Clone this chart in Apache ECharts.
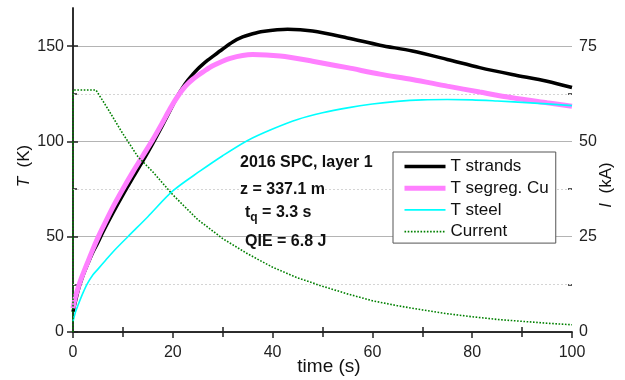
<!DOCTYPE html>
<html>
<head>
<meta charset="utf-8">
<script src="https://cdn.jsdelivr.net/npm/echarts@6/dist/echarts.min.js"></script>
<style>
  html, body { margin: 0; padding: 0; background: #fff; }
  #chart { width: 625px; height: 380px; }
</style>
</head>
<body>
<div id="chart"></div>
<script>
// values
const timeStrands = [0, 1, 2, 3, 4, 5, 6, 8, 10, 12, 14, 16, 18, 20, 21, 22, 23, 24, 25, 26, 27, 28, 30, 32, 34, 36, 38, 43, 48, 55, 61.5, 68, 75, 81.5, 88, 95, 100];
const tStrands = [10.5, 21.5, 29.5, 36, 42, 47, 52.5, 62.5, 72, 81, 89.8, 99, 108.8, 119, 124, 128.3, 132, 135.2, 138, 140.4, 142.6, 144.6, 148.5, 152.2, 154.8, 156.5, 157.7, 158.8, 157.9, 154.3, 150.5, 147.4, 143, 138.7, 135.1, 131.6, 128.3];

const timeCu = [0, 0.5, 1, 1.5, 2, 3, 4, 5, 6, 8, 10, 12, 14, 16, 18, 19, 20, 21, 22, 23, 24, 25, 26, 28.1, 31.5, 36, 41.5, 48, 55, 61.5, 68, 75, 81.5, 88, 95, 100];
const tCu = [12.5, 18.5, 23, 27, 30.5, 37, 43.5, 49.5, 55, 65.5, 75, 84, 92.5, 101, 110.2, 115, 119.6, 123.7, 127.3, 130.2, 132.6, 134.6, 136.4, 139.8, 143.6, 145.6, 144.8, 142.1, 138.7, 135.3, 132.5, 129, 125.9, 122.9, 120.3, 118.5];

const timeSteel = [0, 0.5, 1, 2, 2.8, 4, 5, 6.5, 8, 11, 15, 20, 25.5, 30, 35, 40, 45, 50, 55, 60, 65, 70, 75, 80, 85, 90, 95, 100];
const tSteel = [5.5, 10.5, 14, 20.5, 25, 30, 33, 37.5, 42, 50, 60.5, 74, 84.5, 92.5, 100.5, 106.5, 111.5, 115, 117.6, 119.6, 121, 121.8, 122, 121.8, 121.2, 120.5, 119.7, 118.8];

const timeCurrent = [0, 0, 4.6, 7, 10, 13, 16, 20, 25, 30, 35, 40, 45, 50, 55, 60, 65, 70, 75, 80, 85, 90, 95, 100];
const currentKA = [0, 63.5, 63.5, 58.5, 52, 46, 42, 36, 29.5, 24.5, 20.5, 17, 14.2, 12, 10, 8.2, 6.9, 5.8, 4.8, 4, 3.3, 2.8, 2.3, 1.9];

const tempTicks = [0, 50, 100, 150];
const tempMinorTicks = [25, 75, 125];
const currentTicks = [0, 25, 50, 75];
const currentMinorTicks = [12.5, 37.5, 62.5];
const timeMinorTicks = [10, 30, 50, 70, 90];

const FONT = "'Liberation Sans', Arial, sans-serif";
const AXIS_COLOR = "#222";

function pairs(xs, ys) {
  return xs.map((x, i) => [x, ys[i]]);
}

const chart = echarts.init(document.getElementById("chart"));

const hiddenLabel = { show: false };
const noLine = { show: false };

chart.setOption({
  animation: false,
  textStyle: { fontFamily: FONT },
  grid: { left: 73, right: 53, top: 8, bottom: 48, outerBoundsMode: "none", containLabel: false },
  legend: {
    orient: "vertical",
    left: 393,
    top: 152,
    padding: [6, 7, 3, 9],
    itemWidth: 41,
    itemHeight: 14,
    itemGap: 4.7,
    backgroundColor: "#fff",
    borderColor: "#555",
    borderWidth: 1,
    borderRadius: 0,
    selectedMode: false,
    itemStyle: { opacity: 0 },
    lineStyle: { width: "inherit" },
    textStyle: { fontFamily: FONT, fontSize: 17, color: "#111", lineHeight: 17 },
    data: ["T strands", "T segreg. Cu", "T steel", "Current"],
  },
  xAxis: [
    {
      type: "value",
      position: "bottom",
      min: 0,
      max: 100,
      interval: 20,
      name: "time (s)",
      nameLocation: "middle",
      nameGap: 25,
      nameMoveOverlap: false,
      nameTextStyle: { fontSize: 19, color: "#111", padding: [0, 0, 0, 13] },
      axisLine: { show: true, lineStyle: { color: AXIS_COLOR, width: 1.5 } },
      axisTick: { show: true, inside: false, length: 6, lineStyle: { color: AXIS_COLOR, width: 1.5 } },
      axisLabel: { fontSize: 16, color: "#222", margin: 13 },
      splitLine: noLine,
    },
    {
      type: "value",
      position: "bottom",
      min: 0,
      max: 100,
      axisLine: noLine,
      axisTick: { show: true, inside: true, length: 5, customValues: timeMinorTicks, lineStyle: { color: AXIS_COLOR, width: 1.5 } },
      axisLabel: hiddenLabel,
      splitLine: noLine,
    },
    {
      type: "value",
      position: "top",
      min: 0,
      max: 100,
      interval: 10,
      axisLine: { show: true, lineStyle: { color: AXIS_COLOR, width: 1.5 } },
      axisTick: { show: true, inside: true, length: 5, lineStyle: { color: AXIS_COLOR, width: 1.5 } },
      axisLabel: hiddenLabel,
      splitLine: noLine,
    },
  ],
  yAxis: [
    {
      type: "value",
      position: "left",
      min: 0,
      max: 170,
      interval: 50,
      name: "{i|T}  (K)",
      nameLocation: "middle",
      nameGap: 40,
      nameMoveOverlap: false,
      nameTextStyle: {
        fontSize: 17,
        color: "#111",
        padding: [0, 0, 0, 8],
        rich: { i: { fontSize: 17, fontStyle: "italic", color: "#111" } },
      },
      axisLine: { show: true, lineStyle: { color: AXIS_COLOR, width: 1.5 } },
      axisTick: { show: true, inside: false, length: 6, customValues: tempTicks, lineStyle: { color: AXIS_COLOR, width: 1.5 } },
      axisLabel: { fontSize: 16, color: "#222", margin: 9, customValues: tempTicks },
      splitLine: { show: true, lineStyle: { color: "#b4b4b4", width: 1 } },
    },
    {
      type: "value",
      position: "right",
      min: 0,
      max: 85,
      interval: 25,
      name: "{i|I}  (kA)",
      nameLocation: "middle",
      nameGap: 26,
      nameMoveOverlap: false,
      nameTextStyle: {
        fontSize: 17,
        color: "#111",
        padding: [0, 30, 0, 0],
        rich: { i: { fontSize: 17, fontStyle: "italic", color: "#111" } },
      },
      axisLine: { show: true, lineStyle: { color: AXIS_COLOR, width: 1.5 } },
      axisTick: { show: true, inside: false, length: 5, customValues: currentTicks, lineStyle: { color: AXIS_COLOR, width: 1.5 } },
      axisLabel: { fontSize: 16, color: "#222", margin: 7, customValues: currentTicks },
      splitLine: noLine,
    },
    {
      type: "value",
      position: "left",
      min: 0,
      max: 170,
      axisLine: noLine,
      axisTick: { show: true, inside: true, length: 4, customValues: tempMinorTicks, lineStyle: { color: AXIS_COLOR, width: 1.5 } },
      axisLabel: hiddenLabel,
      splitLine: noLine,
    },
    {
      type: "value",
      position: "right",
      min: 0,
      max: 85,
      axisLine: noLine,
      axisTick: { show: true, inside: true, length: 4, customValues: currentMinorTicks, lineStyle: { color: AXIS_COLOR, width: 1.5 } },
      axisLabel: hiddenLabel,
      splitLine: noLine,
    },
  ],
  graphic: [
    {
      type: "text",
      left: 240,
      top: 155,
      z: 10,
      style: { text: "2016 SPC, layer 1", font: "bold 16px " + FONT, fill: "#111" },
    },
    {
      type: "text",
      left: 240,
      top: 182,
      z: 10,
      style: { text: "z = 337.1 m", font: "bold 16px " + FONT, fill: "#111", backgroundColor: "#fff" },
    },
    {
      type: "text",
      left: 245,
      top: 205,
      z: 10,
      style: {
        text: "{b|t}{s|q}{b| = 3.3 s}",
        rich: {
          b: { font: "bold 16px " + FONT, fill: "#111", lineHeight: 22, verticalAlign: "middle" },
          s: { font: "bold 12px " + FONT, fill: "#111", lineHeight: 22, verticalAlign: "bottom" },
        },
      },
    },
    {
      type: "text",
      left: 245,
      top: 234,
      z: 10,
      style: { text: "QIE = 6.8 J", font: "bold 16px " + FONT, fill: "#111" },
    },
  ],
  series: [
    {
      name: "T strands",
      type: "line",
      xAxisIndex: 0,
      yAxisIndex: 0,
      symbol: "none",
      smooth: 0.3,
      lineStyle: { color: "#000", width: 3.5 },
      itemStyle: { color: "#000" },
      data: pairs(timeStrands, tStrands),
    },
    {
      name: "T segreg. Cu",
      type: "line",
      xAxisIndex: 0,
      yAxisIndex: 0,
      symbol: "none",
      smooth: 0.3,
      lineStyle: { color: "#ff80ff", width: 5 },
      itemStyle: { color: "#ff80ff" },
      data: pairs(timeCu, tCu),
    },
    {
      name: "T steel",
      type: "line",
      xAxisIndex: 0,
      yAxisIndex: 0,
      symbol: "none",
      smooth: 0.3,
      lineStyle: { color: "#00ffff", width: 1.6 },
      itemStyle: { color: "#00ffff" },
      data: pairs(timeSteel, tSteel),
    },
    {
      name: "Current",
      type: "line",
      xAxisIndex: 0,
      yAxisIndex: 1,
      symbol: "none",
      smooth: false,
      lineStyle: { color: "#008000", width: 1.6, type: [1.6, 1.6] },
      itemStyle: { color: "#008000" },
      data: pairs(timeCurrent, currentKA),
      markLine: {
        silent: true,
        symbol: "none",
        label: { show: false },
        lineStyle: { color: "#d4d4d4", width: 1, type: [2, 2] },
        data: tempMinorTicks.map((v) => ({ yAxis: v / 2 })),
        z: 1,
      },
    },
  ],
});
</script>
</body>
</html>
